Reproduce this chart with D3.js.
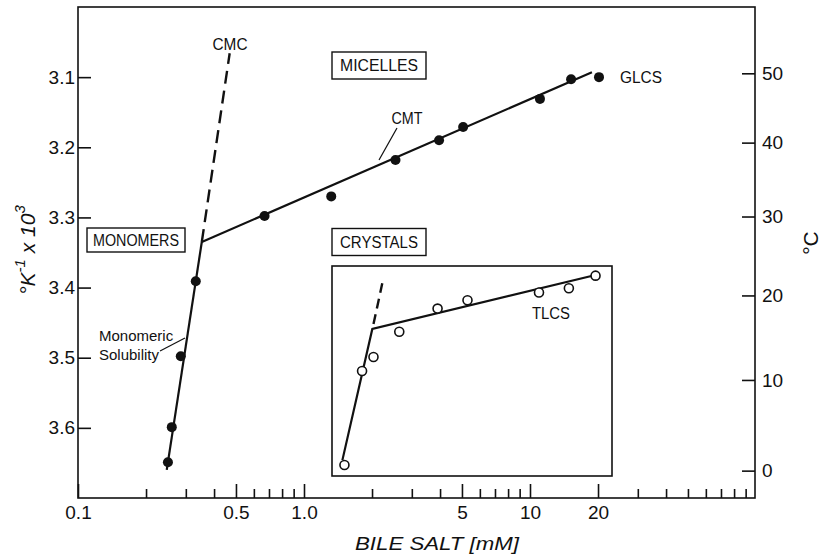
<!DOCTYPE html>
<html>
<head>
<meta charset="utf-8">
<script src="https://cdn.jsdelivr.net/npm/d3@7"></script>
<style>
  body { margin: 0; background: #fff; }
  svg text { font-family: "Liberation Sans Narrow", "Liberation Sans", Arial, sans-serif; fill: #111; }
</style>
</head>
<body>
<svg id="chart" width="834" height="558"></svg>
<script>
// Glycolithocholate sulfate (GLCS): concentration (mM) vs 1/T (K^-1 x 10^3)
const glcsConc = [0.25, 0.26, 0.285, 0.332, 0.669, 1.32, 2.54, 3.96, 5.06, 11.07, 15.2, 20.2];
const glcsInvT = [3.649, 3.599, 3.498, 3.391, 3.298, 3.270, 3.218, 3.190, 3.171, 3.131, 3.103, 3.100];
// Taurolithocholate sulfate (TLCS)
const tlcsConc = [1.51, 1.807, 2.03, 2.64, 3.90, 5.29, 10.96, 14.86, 19.5];
const tlcsInvT = [3.653, 3.519, 3.499, 3.463, 3.430, 3.418, 3.407, 3.401, 3.383];

// Phase boundaries as [conc, 1/T] vertices
const solubilityLine = [[0.247, 3.66], [0.353, 3.335]];
const cmcLine = [[0.353, 3.335], [0.469, 3.066]];
const cmtLine = [[0.353, 3.335], [18.8, 3.093]];
const tlcsSolLine = [[1.479, 3.646], [2.006, 3.459], [19.5, 3.382]];
const tlcsCmcLine = [[2.03, 3.452], [2.22, 3.394]];

// Axis ticks
const xMajorTicks = [0.1, 0.5, 1, 5, 10, 20];
const xMajorLabels = ["0.1", "0.5", "1.0", "5", "10", "20"];
const xMinorTicks = [0.2, 0.3, 0.4, 0.6, 0.7, 0.8, 0.9, 2, 3, 4, 6, 7, 8, 9, 30, 40, 50, 60, 70, 80, 90];
const invTTicks = [3.1, 3.2, 3.3, 3.4, 3.5, 3.6];
const celsiusTicks = [0, 10, 20, 30, 40, 50];

const svg = d3.select("#chart");
const x = d3.scaleLog().domain([0.1, 99]).range([78, 755]);
const y = d3.scaleLinear().domain([3.0, 3.7]).range([7, 498]);
const toInvT = c => 1000 / (c + 273.15);

const ink = "#111";
const line = d3.line().x(d => x(d[0])).y(d => y(d[1]));

// frame
svg.append("rect")
  .attr("x", x(0.1)).attr("y", y(3.0))
  .attr("width", x(99) - x(0.1)).attr("height", y(3.7) - y(3.0))
  .attr("fill", "none").attr("stroke", ink).attr("stroke-width", 1.6);

// bottom axis: minor then labelled major ticks, drawn inward
const axMinor = svg.append("g").attr("transform", `translate(0,${y(3.7)})`)
  .call(d3.axisBottom(x).tickValues(xMinorTicks).tickSizeInner(-9).tickSizeOuter(0).tickFormat(""));
const axMajor = svg.append("g").attr("transform", `translate(0,${y(3.7)})`)
  .call(d3.axisBottom(x).tickValues(xMajorTicks).tickSizeInner(-14).tickSizeOuter(0).tickPadding(8)
    .tickFormat((d, i) => xMajorLabels[i]));

// left axis
const axLeft = svg.append("g").attr("transform", `translate(${x(0.1)},0)`)
  .call(d3.axisLeft(y).tickValues(invTTicks).tickSizeInner(-13).tickSizeOuter(0).tickPadding(3)
    .tickFormat(d3.format(".1f")));

// right axis in degrees Celsius, placed through 1/T
const axRight = svg.append("g").attr("transform", `translate(${x(99)},0)`)
  .call(d3.axisRight(y).tickValues(celsiusTicks.map(toInvT)).tickSizeInner(-13).tickSizeOuter(0).tickPadding(7)
    .tickFormat((d, i) => celsiusTicks[i]));

[axMinor, axMajor, axLeft, axRight].forEach(g => {
  g.select(".domain").remove();
  g.selectAll(".tick line").attr("stroke", ink).attr("stroke-width", 1.6);
  g.selectAll("text").attr("font-size", 19).attr("fill", ink);
});

// axis titles
svg.append("text")
  .attr("x", 437).attr("y", 550).attr("text-anchor", "middle")
  .attr("font-size", 19).attr("font-style", "italic")
  .attr("textLength", 164).attr("lengthAdjust", "spacingAndGlyphs")
  .text("BILE SALT [mM]");

const yTitle = svg.append("text")
  .attr("transform", "translate(35,250) rotate(-90)")
  .attr("text-anchor", "middle").attr("font-size", 21).attr("font-style", "italic");
yTitle.append("tspan").text("°K");
yTitle.append("tspan").attr("font-size", 15).attr("dy", -10).text("-1");
yTitle.append("tspan").attr("dy", 10).text(" x 10");
yTitle.append("tspan").attr("font-size", 15).attr("dy", -10).text("3");

svg.append("text")
  .attr("transform", "translate(818,243) rotate(-90)")
  .attr("text-anchor", "middle").attr("font-size", 21)
  .text("°C");

// inset frame for the TLCS data
svg.append("rect")
  .attr("x", 332).attr("y", 266).attr("width", 280).attr("height", 210)
  .attr("fill", "#fff").attr("stroke", ink).attr("stroke-width", 1.6);

// GLCS boundaries
svg.append("path").attr("d", line(solubilityLine))
  .attr("fill", "none").attr("stroke", ink).attr("stroke-width", 2.2);
svg.append("path").attr("d", line(cmtLine))
  .attr("fill", "none").attr("stroke", ink).attr("stroke-width", 2.2);
svg.append("path").attr("d", line(cmcLine))
  .attr("fill", "none").attr("stroke", ink).attr("stroke-width", 2.4).attr("stroke-dasharray", "13,7");

// TLCS boundaries
svg.append("path").attr("d", line(tlcsSolLine))
  .attr("fill", "none").attr("stroke", ink).attr("stroke-width", 2.2);
svg.append("path").attr("d", line(tlcsCmcLine))
  .attr("fill", "none").attr("stroke", ink).attr("stroke-width", 2.4).attr("stroke-dasharray", "10,6");

// points
svg.append("g").selectAll("circle").data(glcsConc).join("circle")
  .attr("cx", d => x(d)).attr("cy", (d, i) => y(glcsInvT[i])).attr("r", 5)
  .attr("fill", ink);
svg.append("g").selectAll("circle").data(tlcsConc).join("circle")
  .attr("cx", d => x(d)).attr("cy", (d, i) => y(tlcsInvT[i])).attr("r", 4.5)
  .attr("fill", "#fff").attr("stroke", ink).attr("stroke-width", 1.6);

// region boxes
function boxLabel(cx, cy, w, h, label, len) {
  svg.append("rect").attr("x", cx - w / 2).attr("y", cy - h / 2).attr("width", w).attr("height", h)
    .attr("fill", "#fff").attr("stroke", ink).attr("stroke-width", 1.4);
  svg.append("text").attr("x", cx).attr("y", cy).attr("dy", "0.36em")
    .attr("text-anchor", "middle").attr("font-size", 16)
    .attr("textLength", len).attr("lengthAdjust", "spacingAndGlyphs").text(label);
}
boxLabel(379, 65.5, 94, 27, "MICELLES", 78);
boxLabel(379, 242, 94, 27, "CRYSTALS", 78);
boxLabel(136, 240, 98, 24, "MONOMERS", 86);

// annotations
function note(xp, yp, label, len, anchor) {
  svg.append("text").attr("x", xp).attr("y", yp).attr("dy", "0.36em")
    .attr("text-anchor", anchor || "middle").attr("font-size", 16)
    .attr("textLength", len).attr("lengthAdjust", "spacingAndGlyphs").text(label);
}
note(230, 44, "CMC", 35);
note(407, 118, "CMT", 31);
note(620, 77, "GLCS", 42, "start");
note(551, 313, "TLCS", 38);

svg.append("line").attr("x1", 397).attr("y1", 128).attr("x2", 379).attr("y2", 160)
  .attr("stroke", ink).attr("stroke-width", 1.2);

svg.append("text").attr("x", 99).attr("y", 336).attr("dy", "0.36em").attr("font-size", 15).text("Monomeric");
svg.append("text").attr("x", 99).attr("y", 355).attr("dy", "0.36em").attr("font-size", 15).text("Solubility");
svg.append("line").attr("x1", 160).attr("y1", 351).attr("x2", 185).attr("y2", 338)
  .attr("stroke", ink).attr("stroke-width", 1.2);
</script>
</body>
</html>
